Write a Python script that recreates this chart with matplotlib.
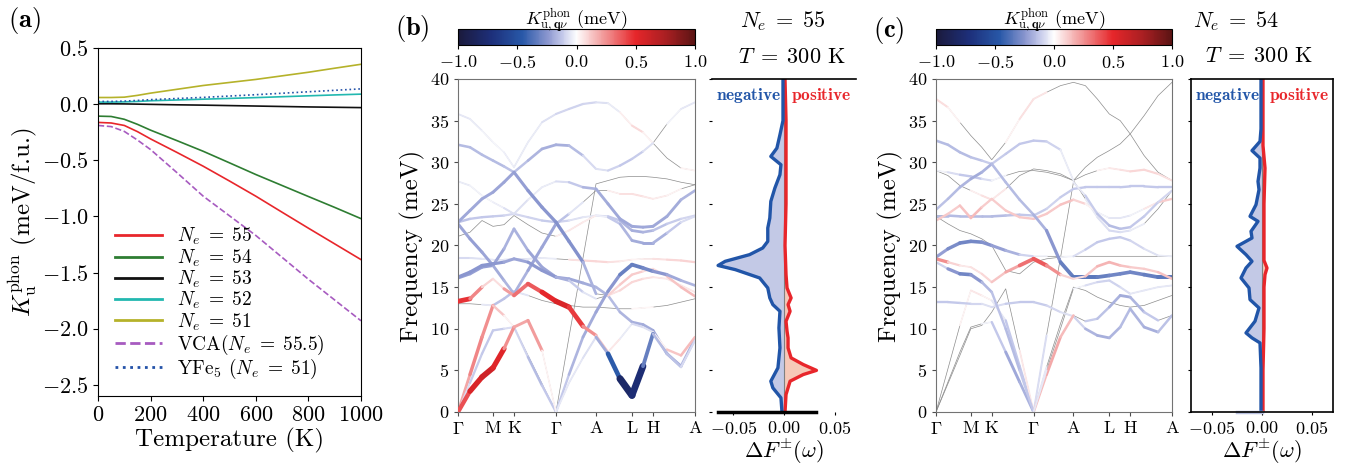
import numpy as np
import matplotlib
matplotlib.use('Agg')
import matplotlib.pyplot as plt
from matplotlib.collections import LineCollection
from matplotlib.colors import LinearSegmentedColormap, Normalize
from matplotlib.cm import ScalarMappable

plt.rcParams['font.family'] = 'cmr10'
plt.rcParams['mathtext.fontset'] = 'cm'
plt.rcParams['axes.formatter.use_mathtext'] = True

# ---------------- panel (a): K_u^phon vs temperature ----------------
temperature = [0, 50, 100, 150, 200, 300, 400, 500, 600, 700, 800, 900, 1000]
ku_ne55 = [-0.163, -0.168, -0.19, -0.245, -0.31, -0.43, -0.553, -0.685, -0.82, -0.963, -1.105, -1.245, -1.385]
ku_ne54 = [-0.107, -0.11, -0.135, -0.18, -0.232, -0.325, -0.42, -0.523, -0.627, -0.725, -0.823, -0.92, -1.02]
ku_ne53 = [0.003, 0.003, 0.002, 0.0, -0.002, -0.006, -0.009, -0.013, -0.017, -0.021, -0.025, -0.028, -0.031]
ku_ne52 = [0.018, 0.018, 0.02, 0.024, 0.03, 0.037, 0.044, 0.051, 0.058, 0.066, 0.074, 0.082, 0.089]
ku_ne51 = [0.059, 0.059, 0.062, 0.078, 0.098, 0.132, 0.166, 0.193, 0.22, 0.252, 0.284, 0.32, 0.355]
ku_vca = [-0.19, -0.2, -0.243, -0.32, -0.405, -0.61, -0.82, -0.995, -1.17, -1.365, -1.56, -1.745, -1.93]
ku_yfe5 = [0.024, 0.024, 0.027, 0.033, 0.04, 0.05, 0.06, 0.072, 0.084, 0.097, 0.11, 0.123, 0.136]

series_a = [ku_ne55, ku_ne54, ku_ne53, ku_ne52, ku_ne51, ku_vca, ku_yfe5]
labels_a = [r'$N_e\;=\;55$', r'$N_e\;=\;54$', r'$N_e\;=\;53$', r'$N_e\;=\;52$', r'$N_e\;=\;51$',
            r'VCA$(N_e\;=\;55.5)$', r'YFe$_5$ $(N_e\;=\;51)$']
colors_a = ['#e8262b', '#2e7d32', '#111111', '#22b8b0', '#b5b22a', '#a75bc0', '#2452a8']
styles_a = ['-', '-', '-', '-', '-', '--', ':']

# ---------------- phonon bands (panels b, c) ----------------
kpath = [0, 12, 24, 35, 46, 56, 70, 84, 98, 111, 125, 138, 150, 162, 174, 185, 195, 209, 223, 237]
hs_pos = [0, 35, 56, 98, 138, 174, 195, 237]
hs_lab = [r'$\Gamma$', 'M', 'K', r'$\Gamma$', 'A', 'L', 'H', 'A']

bands_b = [
    [35.8, 35.2, 33.8, 32.4, 31.2, 29.4, 32.4, 34.8, 35.8, 36.4, 37.0, 37.2, 37.1, 36.0, 34.4, 33.6, 32.3, 30.5, 29.3, 29.0],
    [32.1, 31.8, 30.9, 30.2, 29.5, 28.8, 30.2, 31.6, 32.1, 32.0, 30.8, 29.2, 29.0, 29.6, 30.4, 31.3, 32.3, 34.6, 36.4, 37.2],
    [27.7, 27.2, 26.0, 25.2, 24.5, 23.8, 25.5, 27.0, 27.7, 27.6, 27.0, 26.8, 25.0, 23.2, 22.3, 22.2, 22.3, 23.5, 25.5, 26.6],
    [0.0, 4.5, 9.0, 12.8, 11.6, 10.2, 6.8, 3.4, 0.0, 9.0, 18.5, 27.4, 27.8, 28.2, 28.3, 28.3, 28.2, 28.0, 27.6, 27.3],
    [22.8, 24.2, 25.6, 26.4, 27.6, 28.8, 26.6, 24.6, 22.8, 20.5, 18.0, 14.2, 14.0, 15.3, 16.5, 16.9, 17.2, 16.3, 15.0, 13.9],
    [0.0, 3.5, 7.0, 9.8, 10.0, 10.2, 6.6, 3.2, 0.0, 4.5, 9.0, 12.0, 14.5, 16.5, 17.7, 17.3, 16.9, 16.5, 15.8, 15.2],
    [13.3, 13.6, 15.0, 16.0, 14.8, 14.0, 15.4, 14.4, 13.3, 12.6, 10.3, 9.2, 7.2, 8.8, 10.6, 10.2, 9.6, 7.5, 6.8, 9.0],
    [0.0, 2.5, 4.2, 5.3, 7.6, 10.2, 11.0, 7.4, 0.0, 3.5, 6.5, 9.0, 7.0, 4.0, 2.0, 5.5, 9.4, 7.0, 5.4, 8.6],
    [16.2, 16.8, 17.6, 17.8, 18.0, 18.4, 18.0, 17.0, 16.2, 15.8, 14.4, 13.6, 14.0, 14.6, 15.6, 16.0, 16.2, 16.0, 15.2, 14.4],
    [18.5, 18.5, 18.4, 18.3, 18.3, 18.4, 18.4, 18.5, 18.4, 18.3, 18.2, 18.1, 18.0, 18.1, 18.3, 18.4, 18.4, 18.3, 18.2, 18.0],
    [22.8, 23.2, 23.4, 23.5, 23.6, 23.8, 23.4, 23.0, 22.8, 23.0, 23.4, 23.6, 23.5, 23.0, 21.8, 21.6, 21.8, 22.6, 23.2, 23.6],
    [21.1, 21.6, 23.0, 22.3, 22.5, 23.6, 22.5, 21.5, 21.1, 21.8, 22.8, 23.6, 23.4, 22.6, 20.6, 20.3, 20.3, 21.5, 22.8, 23.5],
    [22.6, 20.8, 19.2, 17.6, 15.8, 14.2, 17.0, 19.8, 22.6, 23.8, 25.2, 26.6, 26.6, 26.2, 26.2, 25.9, 25.6, 26.0, 26.8, 27.3],
    [16.1, 16.6, 17.4, 17.6, 19.6, 22.0, 19.4, 17.4, 16.2, 16.0, 15.5, 15.0, 14.0, 12.0, 10.8, 10.5, 9.8, 7.0, 5.5, 8.8],
    [13.0, 13.0, 12.9, 12.8, 13.6, 14.5, 14.0, 13.4, 13.0, 12.8, 12.6, 12.6, 12.5, 12.4, 12.4, 12.5, 12.6, 12.8, 13.2, 13.6],
]
kphon_b = [
    [-0.05, -0.05, -0.03, -0.02, -0.02, -0.05, -0.03, -0.05, -0.08, -0.1, -0.1, -0.08, -0.06, -0.03, 0.1, 0.06, 0.0, 0.0, 0.02, 0.03],
    [-0.15, -0.15, -0.15, -0.15, -0.15, -0.12, -0.15, -0.18, -0.18, -0.18, -0.12, -0.05, -0.08, -0.12, -0.12, -0.1, -0.03, 0.0, -0.05, -0.05],
    [-0.05, -0.03, -0.02, -0.02, -0.05, -0.08, -0.05, -0.03, -0.05, -0.1, -0.15, -0.18, -0.2, -0.2, -0.2, -0.2, -0.2, -0.2, -0.18, -0.15],
    [0.15, 0.25, 0.3, 0.2, 0.05, 0.0, 0.0, 0.0, 0.0, 0.0, 0.0, 0.0, 0.0, 0.0, 0.0, 0.0, 0.0, 0.0, 0.0, 0.0],
    [-0.2, -0.2, -0.2, -0.2, -0.22, -0.2, -0.25, -0.25, -0.25, -0.28, -0.25, -0.1, 0.08, 0.12, 0.12, 0.1, 0.05, 0.1, 0.15, 0.15],
    [-0.05, -0.1, -0.12, -0.12, -0.1, -0.05, -0.15, -0.15, -0.1, -0.15, -0.18, -0.2, -0.22, -0.28, -0.35, -0.3, -0.28, -0.22, -0.18, -0.15],
    [0.55, 0.4, 0.15, 0.05, 0.1, 0.35, 0.3, 0.45, 0.55, 0.55, 0.35, 0.15, 0.1, 0.0, -0.08, -0.08, -0.05, 0.1, 0.15, 0.15],
    [0.3, 0.5, 0.6, 0.6, 0.45, 0.05, 0.35, 0.1, -0.05, -0.05, -0.05, -0.08, -0.3, -0.6, -1.0, -0.5, -0.15, -0.15, -0.12, -0.05],
    [-0.25, -0.25, -0.25, -0.25, -0.22, -0.2, -0.22, -0.25, -0.22, -0.15, -0.08, -0.03, 0.05, 0.08, 0.1, 0.08, 0.05, 0.05, 0.05, 0.05],
    [-0.08, -0.08, -0.05, -0.05, -0.05, -0.05, -0.05, -0.05, -0.03, 0.05, 0.08, 0.1, 0.08, 0.05, 0.03, 0.03, 0.05, 0.08, 0.1, 0.1],
    [-0.15, -0.12, -0.12, -0.12, -0.1, -0.08, -0.1, -0.1, -0.12, -0.08, -0.05, -0.05, -0.1, -0.15, -0.18, -0.18, -0.15, -0.12, -0.1, -0.08],
    [0.0, 0.0, 0.0, 0.0, 0.0, 0.0, 0.0, 0.0, 0.02, 0.05, 0.05, 0.03, -0.1, -0.15, -0.18, -0.2, -0.2, -0.15, -0.1, -0.05],
    [-0.2, -0.22, -0.22, -0.2, -0.18, -0.15, -0.2, -0.22, -0.2, -0.08, -0.03, 0.0, 0.02, 0.05, 0.08, 0.05, 0.05, 0.03, 0.02, 0.0],
    [-0.22, -0.22, -0.22, -0.22, -0.2, -0.15, -0.2, -0.22, -0.2, -0.2, -0.2, -0.18, -0.15, -0.15, -0.18, -0.18, -0.2, -0.2, -0.2, -0.15],
    [0.0, 0.0, 0.0, -0.1, -0.18, -0.1, -0.02, 0.0, 0.0, 0.0, 0.0, 0.0, 0.0, 0.0, 0.02, 0.02, 0.02, 0.0, 0.0, 0.0],
]

bands_c = [
    [37.6, 36.6, 34.8, 33.2, 31.8, 30.3, 32.4, 35.2, 37.6, 38.4, 39.2, 39.6, 39.2, 37.6, 35.8, 35.0, 33.4, 30.8, 28.8, 27.8],
    [32.6, 32.1, 31.2, 30.6, 30.2, 29.8, 31.0, 32.2, 32.6, 32.5, 31.5, 27.8, 29.4, 30.6, 31.4, 32.2, 33.4, 35.6, 38.0, 39.6],
    [24.3, 25.6, 27.0, 28.0, 28.8, 29.8, 27.6, 25.5, 23.7, 21.8, 18.0, 16.2, 16.2, 16.2, 16.4, 16.6, 16.8, 16.5, 16.2, 16.2],
    [29.0, 28.4, 27.2, 26.6, 26.0, 25.5, 26.8, 28.4, 29.2, 29.0, 28.6, 27.8, 25.6, 23.4, 21.8, 21.6, 21.8, 22.6, 24.4, 26.6],
    [29.0, 28.8, 28.5, 28.3, 28.0, 27.8, 28.4, 28.9, 29.0, 28.8, 28.4, 27.8, 28.5, 29.0, 29.3, 29.1, 28.9, 29.1, 28.6, 27.8],
    [23.6, 23.6, 23.5, 23.5, 23.5, 23.5, 23.6, 23.7, 23.6, 24.4, 25.8, 26.8, 27.0, 27.0, 27.0, 27.0, 27.1, 27.1, 27.0, 27.0],
    [23.0, 23.8, 24.8, 23.3, 24.6, 25.6, 24.2, 23.4, 23.2, 23.8, 24.9, 25.5, 25.0, 24.0, 23.3, 23.3, 23.6, 24.4, 25.2, 25.6],
    [18.4, 18.0, 17.6, 17.4, 16.6, 15.6, 16.8, 17.6, 18.4, 17.6, 16.5, 16.0, 16.3, 17.5, 18.0, 17.6, 17.4, 17.2, 16.8, 16.0],
    [18.0, 17.2, 16.6, 16.5, 15.6, 14.4, 10.0, 5.0, 0.0, 5.0, 10.0, 14.8, 15.2, 15.6, 15.8, 15.0, 14.2, 14.6, 15.0, 15.2],
    [18.6, 19.6, 20.3, 20.5, 20.4, 20.0, 19.4, 18.9, 18.7, 18.7, 18.7, 18.7, 18.7, 18.7, 18.7, 18.7, 18.7, 18.7, 18.7, 18.7],
    [13.2, 13.2, 13.1, 13.0, 13.0, 12.6, 13.0, 13.2, 13.2, 12.8, 12.0, 11.5, 10.0, 9.2, 8.9, 10.2, 12.4, 10.2, 9.6, 11.6],
    [0.0, 3.6, 7.2, 10.2, 10.6, 10.8, 7.2, 3.6, 0.0, 9.2, 18.5, 27.6, 26.0, 23.8, 22.4, 22.0, 22.2, 23.5, 25.2, 26.6],
    [0.0, 3.4, 6.8, 10.0, 10.4, 12.0, 14.8, 7.4, 0.0, 4.5, 9.0, 11.6, 10.9, 11.2, 12.6, 14.0, 13.8, 12.0, 11.0, 11.6],
    [0.0, 5.2, 10.4, 14.6, 14.0, 13.4, 11.0, 5.5, 0.0, 5.4, 10.6, 15.0, 14.6, 13.8, 13.2, 12.8, 12.6, 12.8, 13.4, 14.0],
    [23.5, 22.6, 21.8, 21.4, 20.8, 20.0, 17.0, 16.6, 18.0, 18.4, 18.6, 18.7, 19.5, 20.4, 20.8, 21.0, 20.6, 19.6, 18.8, 18.7],
]
kphon_c = [
    [0.1, 0.05, 0.0, 0.0, 0.0, 0.0, 0.0, 0.05, 0.08, 0.03, 0.0, 0.0, 0.0, 0.0, 0.0, 0.0, 0.0, 0.0, 0.0, 0.0],
    [-0.15, -0.15, -0.15, -0.15, -0.12, -0.1, -0.12, -0.12, -0.12, -0.12, -0.08, 0.0, 0.0, 0.0, 0.0, 0.0, 0.0, 0.0, 0.0, 0.0],
    [-0.12, -0.15, -0.15, -0.18, -0.2, -0.15, -0.15, -0.15, -0.15, -0.2, -0.3, -0.35, -0.35, -0.35, -0.3, -0.3, -0.3, -0.3, -0.35, -0.35],
    [0.0, 0.0, 0.0, 0.02, 0.05, 0.08, 0.02, 0.0, 0.0, 0.0, 0.0, 0.0, -0.03, -0.05, -0.08, -0.08, -0.05, -0.03, 0.0, 0.0],
    [0.0, -0.05, -0.1, -0.15, -0.1, -0.05, 0.0, 0.0, 0.0, 0.0, 0.0, 0.0, 0.0, 0.0, 0.05, 0.05, 0.08, 0.1, 0.08, 0.05],
    [-0.15, -0.15, -0.15, -0.15, -0.15, -0.15, -0.15, -0.12, -0.12, -0.1, -0.1, -0.12, -0.12, -0.12, -0.12, -0.12, -0.12, -0.12, -0.12, -0.12],
    [0.12, 0.12, 0.1, 0.18, 0.12, 0.1, 0.12, 0.12, 0.12, 0.12, 0.12, 0.15, 0.05, 0.0, -0.05, -0.05, -0.05, 0.0, 0.1, 0.12],
    [0.35, 0.15, 0.05, 0.05, 0.08, 0.1, 0.15, 0.25, 0.4, 0.35, 0.15, 0.05, 0.1, 0.15, 0.18, 0.15, 0.12, 0.1, 0.12, 0.15],
    [0.0, -0.2, -0.3, -0.3, -0.2, -0.12, -0.15, -0.15, -0.1, 0.0, 0.0, 0.0, -0.05, -0.1, -0.1, -0.1, -0.05, -0.05, -0.05, -0.05],
    [-0.2, -0.25, -0.3, -0.3, -0.28, -0.25, -0.2, -0.15, -0.05, 0.0, 0.0, 0.0, 0.0, 0.0, 0.0, 0.0, 0.0, 0.0, 0.0, 0.0],
    [-0.12, -0.12, -0.12, -0.1, -0.08, -0.05, -0.1, -0.12, -0.12, -0.1, -0.08, -0.05, -0.15, -0.18, -0.18, -0.15, -0.15, -0.18, -0.18, -0.1],
    [0.0, 0.0, 0.0, 0.0, 0.0, -0.05, -0.2, -0.2, -0.15, 0.0, 0.0, 0.0, -0.1, -0.12, -0.15, -0.15, -0.12, -0.12, -0.1, -0.08],
    [0.0, 0.0, 0.0, 0.0, 0.0, 0.0, 0.0, 0.0, 0.1, 0.2, 0.18, 0.12, -0.1, -0.12, -0.15, -0.2, -0.18, -0.15, -0.1, 0.12],
    [0.0, 0.0, 0.0, 0.05, 0.05, 0.0, -0.1, -0.15, -0.1, 0.0, 0.0, 0.0, 0.0, 0.0, 0.0, 0.0, 0.0, 0.0, 0.0, 0.0],
    [0.0, 0.0, 0.0, 0.0, 0.0, 0.0, 0.0, 0.0, 0.0, 0.0, 0.0, -0.05, -0.1, -0.12, -0.12, -0.12, -0.1, -0.08, -0.05, -0.03],
]

# ---------------- Delta F(omega) curves ----------------
dos_b_neg_w = [0, 1.7, 2.9, 3.7, 5.3, 7.7, 10.1, 12.1, 12.9, 13.7, 14.9, 16.1, 17.1, 17.6, 18.1, 18.9, 19.7, 20.5,
               22.1, 23.3, 25.3, 26.9, 28.5, 29.7, 30.7, 31.7, 33.3, 35, 40]
dos_b_neg = [-0.002, -0.003, -0.011, -0.013, -0.006, -0.004, -0.005, -0.004, -0.011, -0.014, -0.016, -0.024, -0.048,
             -0.065, -0.058, -0.034, -0.021, -0.016, -0.016, -0.014, -0.013, -0.009, -0.004, -0.003, -0.013, -0.007,
             -0.004, -0.001, -0.001]
dos_b_pos_w = [0, 2.1, 3.7, 4.5, 5.0, 5.7, 6.5, 7.7, 8.9, 9.7, 10.9, 12.1, 12.9, 13.7, 14.9, 16.5, 20, 25, 30, 35, 40]
dos_b_pos = [0.001, 0.002, 0.006, 0.019, 0.032, 0.019, 0.007, 0.004, 0.004, 0.003, 0.002, 0.006, 0.004, 0.007,
             0.003, 0.002, 0.001, 0.002, 0.002, 0.002, 0.001]

dos_c_neg_w = [0, 5.3, 8.3, 8.9, 9.5, 10.9, 12.5, 13.5, 14.9, 16.1, 17.3, 18.1, 18.9, 19.9, 20.9, 21.7, 22.9, 23.5,
               24.9, 26.7, 27.7, 29.3, 30.5, 31.4, 32.5, 34, 40]
dos_c_neg = [-0.001, -0.001, -0.002, -0.010, -0.016, -0.007, -0.003, -0.012, -0.013, -0.021, -0.016, -0.010, -0.016,
             -0.025, -0.010, -0.011, -0.004, -0.012, -0.006, -0.003, -0.004, -0.002, -0.002, -0.010, -0.002, -0.001,
             -0.001]
dos_c_pos_w = [0, 5, 10, 15, 16.5, 17.3, 18.2, 20, 25, 29.3, 32, 40]
dos_c_pos = [0.001, 0.001, 0.002, 0.002, 0.003, 0.005, 0.002, 0.002, 0.002, 0.003, 0.001, 0.001]

cmap = LinearSegmentedColormap.from_list('kphon', [
    (0.0, '#1b1a3c'), (0.14, '#1d2f7a'), (0.27, '#2858a8'), (0.38, '#8d98d0'), (0.44, '#c4c9ea'),
    (0.5, '#ffffff'), (0.6, '#f3a6a6'), (0.75, '#e6262a'), (0.88, '#a81f22'), (1.0, '#5c1414')])
norm = Normalize(-1, 1)

W, H = 1358, 466
fig = plt.figure(figsize=(W / 100, H / 100), dpi=100)


def box(x0, y0, x1, y1):
    return [x0 / W, 1 - y1 / H, (x1 - x0) / W, (y1 - y0) / H]


# ---- (a)
ax = fig.add_axes(box(98, 48, 361, 396))
for y, lab, c, ls in zip(series_a, labels_a, colors_a, styles_a):
    ax.plot(temperature, y, ls, color=c, lw=1.2, label=lab)
ax.set_xlim(0, 1000)
ax.set_ylim(-2.6, 0.5)
ax.set_xticks([0, 200, 400, 600, 800, 1000])
ax.set_yticks([0.5, 0.0, -0.5, -1.0, -1.5, -2.0, -2.5])
ax.tick_params(labelsize=16)
ax.set_xlabel('Temperature (K)', fontsize=18, labelpad=2)
ax.set_ylabel(r'$K_{\rm u}^{\rm phon}$ (meV/f.u.)', fontsize=18, labelpad=2)
leg = ax.legend(loc='lower left', bbox_to_anchor=(0.02, 0.01), frameon=False, fontsize=14,
                handlelength=2.4, handletextpad=0.8, labelspacing=0.0, borderaxespad=0.2)
for h in leg.get_lines():
    h.set_linewidth(2.0)
fig.text(0.006, 0.957, r'$\mathbf{(a)}$', fontsize=19, va='center')


def band_panel(xl, xr, bands, kph):
    ax = fig.add_axes(box(xl, 79, xr, 412))
    order = np.argsort([np.max(np.abs(k)) for k in kph])
    for i in order:
        fr = np.asarray(bands[i], float)
        kv = np.asarray(kph[i], float)
        ax.plot(kpath, fr, color='0.55', lw=0.5, zorder=1)
        pts = np.column_stack([kpath, fr])
        segs = np.stack([pts[:-1], pts[1:]], axis=1)
        kmid = 0.5 * (kv[:-1] + kv[1:])
        widths = np.where(np.abs(kmid) > 0.015, 1.1 + 5.0 * np.abs(kmid), 0.0)
        lc = LineCollection(segs, cmap=cmap, norm=norm, linewidths=widths,
                            capstyle='round', joinstyle='round', zorder=2 + np.max(np.abs(kv)))
        lc.set_array(kmid)
        ax.add_collection(lc)
    ax.set_xlim(0, 237)
    ax.set_ylim(0, 40)
    ax.set_xticks(hs_pos)
    ax.set_xticklabels(hs_lab)
    ax.set_yticks(range(0, 41, 5))
    ax.tick_params(labelsize=13, length=3, color='0.3')
    for s in ax.spines.values():
        s.set_color('0.45')
    ax.set_ylabel('Frequency (meV)', fontsize=18, labelpad=3)
    cax = fig.add_axes(box(xl, 29, xr, 45))
    cb = fig.colorbar(ScalarMappable(norm=norm, cmap=cmap), cax=cax, orientation='horizontal')
    cb.set_ticks([-1.0, -0.5, 0.0, 0.5, 1.0])
    cax.tick_params(labelsize=13, length=3)
    cb.set_label(r'$K^{\rm phon}_{{\rm u},\mathbf{q}\nu}$ (meV)', fontsize=13, labelpad=3)
    cax.xaxis.set_label_position('top')
    return ax


def dos_panel(xl, xr, nw, nv, pw, pv, full_box):
    ax = fig.add_axes(box(xl, 79, xr, 412))
    ax.fill_betweenx(nw, nv, 0, color='#c3c9e6', lw=0)
    ax.fill_betweenx(pw, pv, 0, color='#f6c9b8', lw=0)
    ax.axvline(0, color='0.5', lw=0.8)
    ax.plot(pv, pw, color='#e8262b', lw=2.4)
    ax.plot(nv, nw, color='#2155a8', lw=2.4)
    ax.set_xlim(-0.071, 0.071)
    ax.set_ylim(0, 40)
    ax.set_yticks(range(0, 41, 5))
    ax.set_yticklabels([])
    ax.set_xticks([-0.05, 0.0, 0.05])
    ax.tick_params(labelsize=13, length=2)
    ax.set_xlabel(r'$\Delta F^{\pm}(\omega)$', fontsize=16, labelpad=0)
    ax.text(0.03, 0.95, r'$\mathbf{negative}$', color='#2155a8', fontsize=12.5, transform=ax.transAxes, va='center')
    ax.text(0.55, 0.95, r'$\mathbf{positive}$', color='#e8262b', fontsize=12.5, transform=ax.transAxes, va='center')
    for s in ax.spines.values():
        s.set_linewidth(1.2)
    if not full_box:
        ax.spines['left'].set_visible(False)
        ax.spines['right'].set_visible(False)
        ax.spines['bottom'].set_visible(False)
        ax.plot([min(nv), max(pv)], [0, 0], color='black', lw=2.5, clip_on=False)
    else:
        ax.plot([-0.025, 0], [0, 0], color='#b8c0e0', lw=2.5, clip_on=False)
    return ax


band_panel(458, 695, bands_b, kphon_b)
dos_panel(712, 856, dos_b_neg_w, dos_b_neg, dos_b_pos_w, dos_b_pos, False)
fig.text(395 / W, 1 - 28 / H, r'$\mathbf{(b)}$', fontsize=19, va='center')
fig.text(783 / W, 1 - 21 / H, r'$N_e\;=\;55$', fontsize=16, ha='center', va='center')
fig.text(792 / W, 1 - 57 / H, r'$T\;=\;300$ K', fontsize=16, ha='center', va='center')

band_panel(936, 1172, bands_c, kphon_c)
dos_panel(1191, 1333, dos_c_neg_w, dos_c_neg, dos_c_pos_w, dos_c_pos, True)
fig.text(873 / W, 1 - 30 / H, r'$\mathbf{(c)}$', fontsize=19, va='center')
fig.text(1236 / W, 1 - 21 / H, r'$N_e\;=\;54$', fontsize=16, ha='center', va='center')
fig.text(1259 / W, 1 - 56 / H, r'$T\;=\;300$ K', fontsize=16, ha='center', va='center')

fig.savefig('out.png', dpi=100)
